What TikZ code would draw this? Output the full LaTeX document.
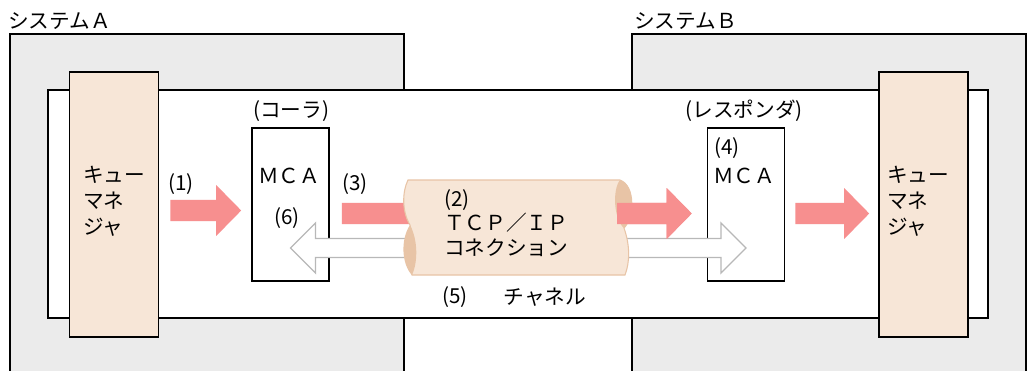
\documentclass[tikz,border=0pt]{standalone}
\usepackage{fontspec}
\setmainfont{Noto Sans CJK JP}
\usetikzlibrary{calc}

\definecolor{sysgray}{HTML}{EBEBEB}
\definecolor{qmbeige}{HTML}{F7E6D7}
\definecolor{arrowred}{HTML}{F78F8F}
\definecolor{hollowgray}{HTML}{B8B8B8}
\definecolor{pipeedge}{HTML}{E8C4A6}

\newcommand{\diafont}{\fontsize{15.5}{19.5}\selectfont}

% red block arrow, horizontal, from #1 to #2
\newcommand{\redarrow}[2]{%
  \fill[arrowred] let \p1=(#1), \p2=(#2), \n1={sign(\x2-\x1)} in
    (\x1,\y1+7.9pt) -- (\x2-\n1*18.75pt,\y1+7.9pt) -- (\x2-\n1*18.75pt,\y1+19.1pt)
    -- (\x2,\y1) -- (\x2-\n1*18.75pt,\y1-19.1pt) -- (\x2-\n1*18.75pt,\y1-7.9pt)
    -- (\x1,\y1-7.9pt) -- cycle;}

% hollow double arrow, from #1 (left tip) to #2 (right tip)
\newcommand{\hollowarrow}[2]{%
  \draw[fill=white, draw=hollowgray, line width=1pt] let \p1=(#1), \p2=(#2) in
    (\x1,\y1) -- (\x1+18.75pt,\y1+18.75pt) -- (\x1+18.75pt,\y1+7.1pt)
    -- (\x2-18.75pt,\y1+7.1pt) -- (\x2-18.75pt,\y1+18.75pt) -- (\x2,\y1)
    -- (\x2-18.75pt,\y1-18.75pt) -- (\x2-18.75pt,\y1-7.1pt)
    -- (\x1+18.75pt,\y1-7.1pt) -- (\x1+18.75pt,\y1-18.75pt) -- cycle;}

\tikzset{
  frame/.style={draw=black, line width=1.2pt},
  qmbox/.style={frame, fill=qmbeige, minimum width=66.75pt, minimum height=198.75pt, inner sep=0pt},
  mcabox/.style={frame, fill=white, minimum width=57.75pt, minimum height=114.75pt, inner sep=0pt},
  lbl/.style={inner sep=0pt, font=\diafont},
}

\begin{document}
\begin{tikzpicture}[x=0.75pt,y=-0.75pt]
\useasboundingbox (0,0) rectangle (1029,371);

% systems
\fill[sysgray] (10,34) rectangle (404,372);
\draw[frame] (10,372) -- (10,34) -- (404,34) -- (404,372);
\fill[sysgray] (632,34) rectangle (1026,372);
\draw[frame] (632,372) -- (632,34) -- (1026,34) -- (1026,372);
\node[lbl, anchor=west] (sysA) at (8,21) {システムＡ};
\node[lbl, anchor=west] (sysB) at (634,21) {システムＢ};

% channel
\draw[frame, fill=white] (48,90) rectangle (988,318);

% queue managers and MCAs
\node[qmbox] (qmA) at (114,204.5) {};
\node[qmbox] (qmB) at (923.5,204.5) {};
\node[lbl, anchor=west, align=left] (qmAtext) at (83,201) {キュー\\マネ\\ジャ};
\node[lbl, anchor=west, align=left] (qmBtext) at (887,201) {キュー\\マネ\\ジャ};

\node[mcabox] (mcaA) at (290.5,204.5) {};
\node[mcabox] (mcaB) at (746,204.5) {};
\node[lbl, anchor=west] (mcaAtext) at (258,176) {ＭＣＡ};
\node[lbl, anchor=west] (mcaBtext) at (713,176) {ＭＣＡ};
\node[lbl] (caller) at (291,111) {(コーラ)};
\node[lbl] (responder) at (744,111) {(レスポンダ)};

% arrows behind the pipe
\hollowarrow{$(mcaA.center)+(0,43.5)$}{$(mcaB.center)+(0,43.5)$}
\redarrow{$(mcaA.east)+(12,9)$}{$(mcaB.west)+(-15,9)$}

% TCP/IP pipe
\fill[qmbeige, draw=pipeedge, line width=0.8pt] (408,180) -- (620,180)
  .. controls (636,186) and (634,218) .. (624,228)
  .. controls (630,245) and (630,262) .. (625,275) -- (412,275)
  .. controls (408,268) and (416,252) .. (410,225)
  .. controls (402,212) and (402,192) .. (408,180) -- cycle;
\fill[pipeedge] (410,225) .. controls (400,240) and (402,265) .. (412,275)
  .. controls (418,262) and (418,240) .. (410,225) -- cycle;
\fill[pipeedge] (620,180) .. controls (636,186) and (634,218) .. (624,228)
  .. controls (614,220) and (612,190) .. (620,180) -- cycle;
\coordinate (pipeout) at (617,213.5);
\redarrow{pipeout}{$(mcaB.west)+(-15,9)$}
\node[lbl, anchor=west, align=left, font=\fontsize{15.5}{18.4}\selectfont] (pipetext) at (444,223) {(2)\\ＴＣＰ／ＩＰ\\コネクション};

% other arrows
\redarrow{$(qmA.east)+(11,6)$}{$(mcaA.west)+(-10,6)$}
\redarrow{$(mcaB.east)+(10,9)$}{$(qmB.west)+(-9,9)$}

% labels
\node[lbl] (l1) at (181,184) {(1)};
\node[lbl] (l3) at (355,184) {(3)};
\node[lbl] (l6) at (287,218) {(6)};
\node[lbl] (l4) at (727,148) {(4)};
\node[lbl] (l5) at (455,297) {(5)};
\node[lbl] (chan) at (545,297) {チャネル};
\end{tikzpicture}
\end{document}
